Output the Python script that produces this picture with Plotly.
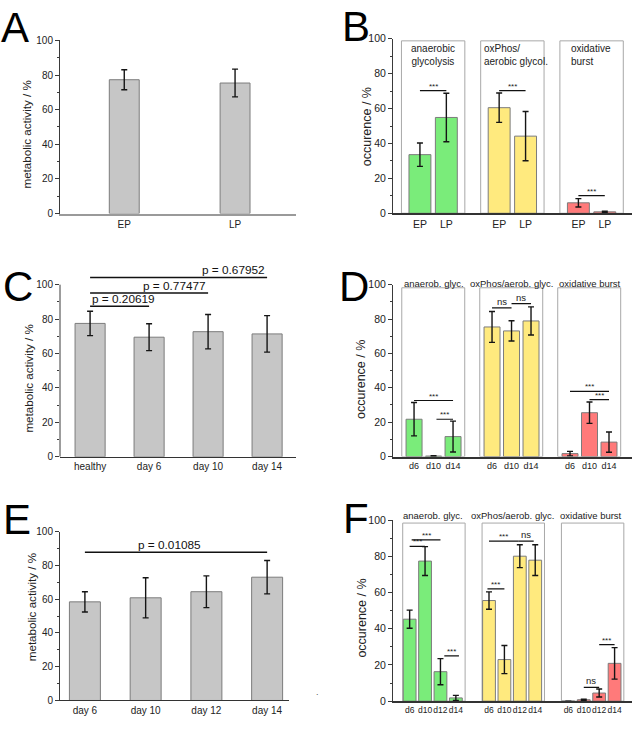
import plotly.graph_objects as go

W, H = 637, 736
FONT = "Liberation Sans, Arial, sans-serif"

# ---------------- data ----------------
# Panel A
A_cats = ["EP", "LP"]
A_vals = [77.3, 75.4]
A_err = [5.8, 8.0]

# Panel B
B_groups = ["anaerobic<br>glycolysis", "oxPhos/<br>aerobic glycol.", "oxidative<br>burst"]
B_cats = ["EP", "LP"]
B_vals = [[33.6, 54.9], [60.5, 44.2], [6.0, 0.8]]
B_err = [[6.7, 13.9], [8.4, 14.1], [2.4, 0.4]]
# (group, from bar, to bar, level, label)
B_sig = [(0, 0, 1, 70.3, "***"), (1, 0, 1, 70.3, "***"), (2, 0, 1, 10.1, "***")]

# Panel C
C_cats = ["healthy", "day 6", "day 10", "day 14"]
C_vals = [77.5, 69.5, 72.7, 71.4]
C_err = [7.1, 7.8, 10.0, 10.6]
# (from, to, level, label)
C_p = [(0, 1, 87.4, "p = 0.20619"), (0, 2, 95.2, "p = 0.77477"), (0, 3, 104.2, "p = 0.67952")]

# Panel D
D_groups = ["anaerob. glyc.", "oxPhos/aerob. glyc.", "oxidative burst"]
D_cats = ["d6", "d10", "d14"]
D_vals = [[21.7, 0.3, 11.6], [75.4, 73.1, 78.9], [1.7, 25.5, 8.4]]
D_err = [[9.7, 0.2, 9.0], [9.0, 5.9, 8.2], [1.3, 6.2, 5.9]]
D_sig = [(0, 0, 2, 32.6, "***"), (0, 1.15, 2, 21.7, "***"),
         (1, 0, 1, 86.5, "ns"), (1, 1, 2, 89.0, "ns"),
         (2, 0, 2, 37.9, "***"), (2, 1, 2, 33.1, "***")]

# Panel E
E_cats = ["day 6", "day 10", "day 12", "day 14"]
E_vals = [58.4, 60.8, 64.4, 73.0]
E_err = [6.0, 11.9, 9.4, 9.9]
E_p = [(0, 3, 87.8, "p = 0.01085")]

# Panel F
F_groups = ["anaerob. glyc.", "oxPhos/aerob. glyc.", "oxidative burst"]
F_cats = ["d6", "d10", "d12", "d14"]
F_vals = [[45.3, 77.4, 16.3, 1.8], [55.6, 23.0, 80.1, 77.9], [0.0, 0.8, 4.5, 20.9]]
F_err = [[5.0, 8.0, 7.2, 1.4], [4.8, 7.8, 6.3, 8.5], [0.0, 0.3, 2.2, 8.7]]
F_sig = [(0, 0, 1, 85.5, "***"), (0, 0.13, 2, 89.1, "***"), (0, 2.25, 3.2, 25.0, "***"),
         (1, -0.1, 1, 62.0, "***"), (1, 0, 1.9, 88.4, "***"), (1, 1.9, 2.9, 88.4, "ns"),
         (2, 1, 2, 7.6, "ns"), (2, 2, 3, 31.2, "***")]

Y_TICKS = [0, 20, 40, 60, 80, 100]
Y_MINOR = [10, 30, 50, 70, 90]

# ---------------- style ----------------
GRAY_FILL = "#c6c6c6"
OUTLINE = "#7c7c7c"
GROUP_COLORS = ["#7aec7a", "#ffea7e", "#ff7a7a"]
BOX_COLOR = "#a8a8a8"
AX_COLOR = "#3a3a3a"
TXT = "#222222"

fig = go.Figure()
layout = dict(width=W, height=H, margin=dict(l=0, r=0, t=0, b=0),
              paper_bgcolor="white", plot_bgcolor="white", showlegend=False,
              barmode="overlay", font=dict(family=FONT, color=TXT))
shapes, annotations = [], []


def xdom(l, r):
    return [l / W, r / W]


def ydom(bottom, top):
    return [1 - bottom / H, 1 - top / H]


def err(arr):
    return dict(type="data", array=arr, color="#151515", thickness=1.4, width=3)


def axes(sfx, xd, yd, xr, yr, tickvals, ticktext, tickfs, xline_w, xline_c, yfs,
         yline=True):
    xa = "xaxis" + sfx
    ya = "yaxis" + sfx
    layout[xa] = dict(domain=xd, range=xr, anchor="y" + sfx, tickmode="array",
                      tickvals=tickvals, ticktext=ticktext, ticks="", showgrid=False,
                      zeroline=False, showline=True, linecolor=xline_c, linewidth=xline_w,
                      tickangle=0,
                      tickfont=dict(size=tickfs, color=TXT, family=FONT), fixedrange=True)
    layout[ya] = dict(domain=yd, range=yr, anchor="x" + sfx, tickmode="array",
                      tickvals=Y_TICKS, ticks="outside", ticklen=4, tickwidth=1,
                      tickcolor=AX_COLOR, showline=yline, linecolor=AX_COLOR, linewidth=1,
                      showgrid=False, zeroline=False,
                      tickfont=dict(size=yfs, color=TXT, family=FONT),
                      minor=dict(tickvals=Y_MINOR, ticks="outside", ticklen=2.5,
                                 tickcolor=AX_COLOR, tickwidth=1),
                      fixedrange=True)


def ytitle(sfx, text, xfrac, yval, size):
    annotations.append(dict(text=text, textangle=-90, xref="x" + sfx + " domain", x=xfrac,
                            yref="y" + sfx, y=yval, showarrow=False, xanchor="center",
                            yanchor="middle", font=dict(size=size, color=TXT, family=FONT)))


def simple_panel(sfx, cats, vals, errs, width):
    fig.add_trace(go.Bar(x=list(range(len(cats))), y=vals, width=width,
                         marker=dict(color=GRAY_FILL, line=dict(color=OUTLINE, width=1)),
                         error_y=err(errs), xaxis="x" + sfx, yaxis="y" + sfx,
                         hoverinfo="skip"))


def grouped_panel(sfx, cats, vals, errs, gap, width, pad_l, pad_r, box_top):
    n = len(cats)
    pos_all = []
    for g in range(len(vals)):
        xs = [g * (n + gap) + i for i in range(n)]
        pos_all += xs
        fig.add_trace(go.Bar(x=xs, y=vals[g], width=width,
                             marker=dict(color=GROUP_COLORS[g], line=dict(color=OUTLINE, width=1)),
                             error_y=err(errs[g]), xaxis="x" + sfx, yaxis="y" + sfx,
                             hoverinfo="skip"))
        shapes.append(dict(type="rect", xref="x" + sfx, yref="y" + sfx,
                           x0=xs[0] - pad_l, x1=xs[-1] + pad_r, y0=0, y1=box_top,
                           line=dict(color=BOX_COLOR, width=1), layer="below"))
    return pos_all, [c for _ in vals for c in cats]


def sig(sfx, n, gap, items, fs_star=8, fs_ns=9.5):
    for g, a, b, lvl, lab in items:
        x0 = g * (n + gap) + a
        x1 = g * (n + gap) + b
        shapes.append(dict(type="line", xref="x" + sfx, yref="y" + sfx, x0=x0, x1=x1,
                           y0=lvl, y1=lvl, line=dict(color="#111", width=1.2)))
        annotations.append(dict(text=lab, xref="x" + sfx, yref="y" + sfx, x=(x0 + x1) / 2,
                                y=lvl, showarrow=False, xanchor="center", yanchor="bottom",
                                yshift=-2 if lab == "***" else -1,
                                font=dict(size=fs_star if lab == "***" else fs_ns,
                                          color="#222", family=FONT)))


def pline(sfx, items, anchor_modes, fs=11.8):
    for (a, b, lvl, lab), mode in zip(items, anchor_modes):
        shapes.append(dict(type="line", xref="x" + sfx, yref="y" + sfx, x0=a, x1=b,
                           y0=lvl, y1=lvl, line=dict(color="#111", width=1.5)))
        if mode == "left":
            x, xa = a, "left"
        elif mode == "right":
            x, xa = b, "right"
        else:
            x, xa = mode, "center"
        annotations.append(dict(text=lab, xref="x" + sfx, yref="y" + sfx, x=x, y=lvl,
                                showarrow=False, xanchor=xa, yanchor="bottom", yshift=-2,
                                font=dict(size=fs, color="#111", family=FONT)))


# ---------------- Panel A ----------------
simple_panel("", A_cats, A_vals, A_err, 0.27)
axes("", xdom(60, 296), ydom(211, 35), [-0.58, 1.55], [0, 100],
     list(range(len(A_cats))), A_cats, 10, 2, "#9a9a9a", 10)
ytitle("", "metabolic activity / %", -0.141, 45.5, 11.6)

# ---------------- Panel B ----------------
posB, txtB = grouped_panel("2", B_cats, B_vals, B_err, 1, 0.83, 0.7, 0.7, 98.8)
axes("2", xdom(393, 632), ydom(210.7, 33.3), [-1.02, 8.03], [0, 100], posB, txtB, 10.5, 1.6, "#333",
     10.5)
ytitle("2", "occurence / %", -0.11, 49.7, 12.5)
sig("2", 2, 1, B_sig)
annotations.append(dict(text=B_groups[0], xref="x2", yref="y2", x=0.5, y=99.0, showarrow=False,
                        xanchor="center", yanchor="top", align="center",
                        font=dict(size=10, color=TXT, family=FONT)))
annotations.append(dict(text=B_groups[1], xref="x2", yref="y2", x=2.36, y=99.0, showarrow=False,
                        xanchor="left", yanchor="top", align="left",
                        font=dict(size=10, color=TXT, family=FONT)))
annotations.append(dict(text=B_groups[2], xref="x2", yref="y2", x=5.66, y=99.0, showarrow=False,
                        xanchor="left", yanchor="top", align="left",
                        font=dict(size=10, color=TXT, family=FONT)))

# ---------------- Panel C ----------------
simple_panel("3", C_cats, C_vals, C_err, 0.51)
C_top = 115
axes("3", xdom(60, 296), ydom(458.3, 458.3 - 1.75 * C_top), [-0.51, 3.49], [0, C_top],
     list(range(len(C_cats))), C_cats, 10, 1.3, "#333", 10, yline=False)
shapes.append(dict(type="line", xref="x3 domain", yref="y3", x0=0, x1=0, y0=0, y1=100,
                   line=dict(color=AX_COLOR, width=1)))
ytitle("3", "metabolic activity / %", -0.134, 45.7, 11.6)
pline("3", C_p, ["left", "right", "right"])

# ---------------- Panel D ----------------
posD, txtD = grouped_panel("4", D_cats, D_vals, D_err, 1, 0.82, 0.63, 0.6, 98.2)
axes("4", xdom(393, 632), ydom(458, 283.3), [-1.08, 11.18], [0, 100], posD, txtD, 9, 1.6, "#333",
     10.5)
ytitle("4", "occurence / %", -0.131, 45.0, 12.5)
sig("4", 3, 1, D_sig)
for g, lab in enumerate(D_groups):
    annotations.append(dict(text=lab, xref="x4", yref="y4", x=g * 4 + 1, y=98.2, showarrow=False,
                            xanchor="center", yanchor="bottom", yshift=-3,
                            font=dict(size=9.5, color=TXT, family=FONT)))

# ---------------- Panel E ----------------
simple_panel("5", E_cats, E_vals, E_err, 0.51)
axes("5", xdom(60, 289), ydom(706, 534.3), [-0.41, 3.36], [0, 100],
     list(range(len(E_cats))), E_cats, 10, 1.3, "#333", 10)
ytitle("5", "metabolic activity / %", -0.124, 55.0, 11.6)
pline("5", E_p, [1.4])
annotations.append(dict(text=".", xref="paper", yref="paper", x=317 / W, y=1 - 704 / H,
                        showarrow=False, font=dict(size=9, color="#555", family=FONT)))

# ---------------- Panel F ----------------
posF, txtF = grouped_panel("6", F_cats, F_vals, F_err, 1.15, 0.83, 0.45, 0.6, 98.4)
axes("6", xdom(393, 632), ydom(706.7, 522.7), [-1.08, 14.43], [0, 100], posF, txtF, 8.5, 1.6, "#333",
     10.5)
ytitle("6", "occurence / %", -0.131, 46.0, 12.5)
sig("6", 4, 1.15, F_sig)
for g, lab in enumerate(F_groups):
    annotations.append(dict(text=lab, xref="x6", yref="y6", x=g * 5.15 + 1.5, y=98.4, showarrow=False,
                            xanchor="center", yanchor="bottom", yshift=0,
                            font=dict(size=9.5, color=TXT, family=FONT)))

# ---------------- panel letters ----------------
letters = [("A", -1, 22), ("B", 340, 21), ("C", 1, 285), ("D", 337, 285), ("E", 1, 522), ("F", 341, 521)]
for t, px, py in letters:
    annotations.append(dict(text=t, xref="paper", yref="paper", x=px / W, y=1 - py / H,
                            xanchor="left", yanchor="middle", showarrow=False,
                            font=dict(size=42, color="#000", family=FONT)))

layout["shapes"] = shapes
layout["annotations"] = annotations
fig.update_layout(**layout)
fig.write_html("out.html", config={"displayModeBar": False},
               post_script="document.body.style.margin='0';")
